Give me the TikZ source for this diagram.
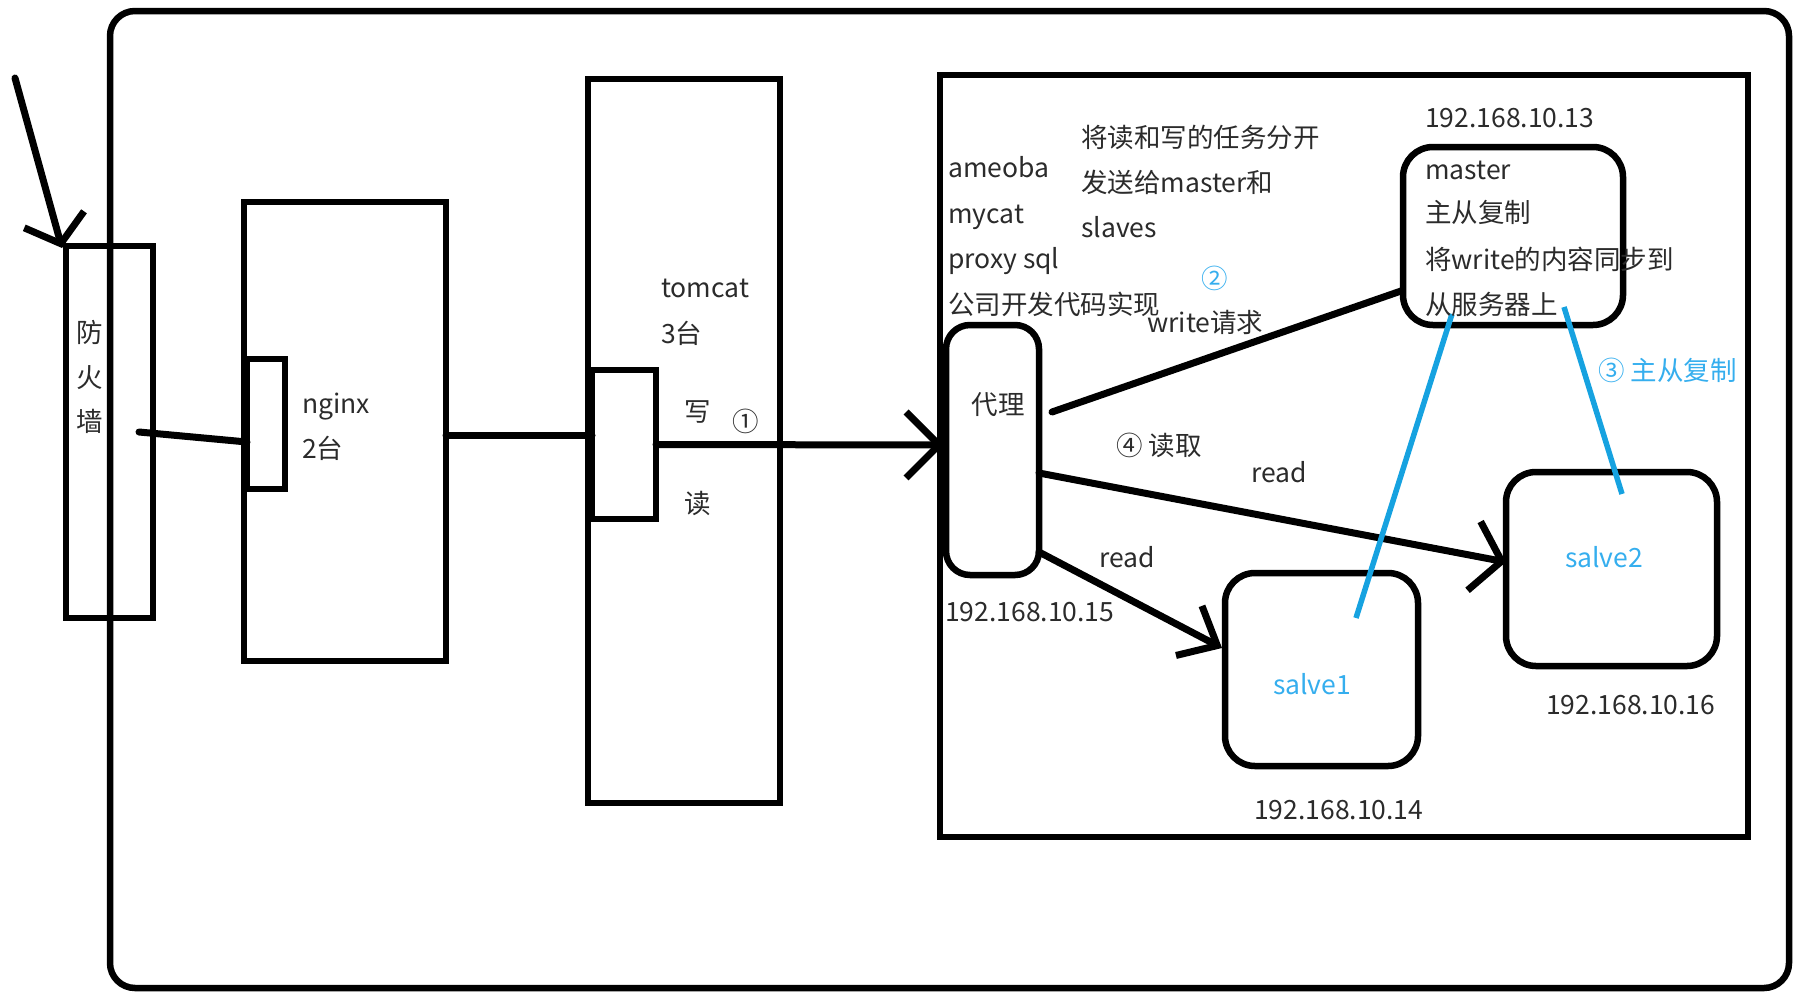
\documentclass[tikz,border=0pt]{standalone}
\usepackage{fontspec}
\setmainfont{Noto Sans CJK SC}
\usetikzlibrary{arrows.meta}
\definecolor{txtgray}{HTML}{2B2B2B}
\definecolor{bline}{HTML}{16A2E0}
\definecolor{btext}{HTML}{35AEEE}
\begin{document}
\begin{tikzpicture}[x=1pt,y=-1pt,
  box/.style={draw=black,line width=6.5pt,inner sep=0pt,outer sep=0pt},
  rbox/.style={box,rounded corners=28pt},
  conn/.style={draw=black,line width=7pt,line cap=round},
  bconn/.style={draw=bline,line width=5.5pt},
  lbl/.style={font=\fontsize{26.5}{30}\selectfont,text=txtgray,inner sep=0pt,text height=22pt,text depth=4pt,anchor=west},
  clbl/.style={lbl,anchor=center},
  blbl/.style={lbl,text=btext},
  bclbl/.style={clbl,text=btext}]
\useasboundingbox (0,0) rectangle (1804,999);
% boxes
\node[box,rounded corners=25pt,minimum width=1679pt,minimum height=977pt] (outer) at (949.5,499.5) {};
\node[box,minimum width=808pt,minimum height=762pt] (inner) at (1344,456) {};
\node[box,minimum width=87pt,minimum height=372pt] (fw) at (109.5,432) {};
\node[box,minimum width=202pt,minimum height=459pt] (ngb) at (345,431.5) {};
\node[box,minimum width=38pt,minimum height=130pt] (ngs) at (266,424) {};
\node[box,minimum width=192pt,minimum height=724pt] (tcb) at (684,441) {};
\node[box,minimum width=64pt,minimum height=149pt] (tcs) at (624,444.5) {};
\node[box,rounded corners=24pt,minimum width=93pt,minimum height=250pt] (px) at (992.5,450) {};
\node[rbox,rounded corners=30pt,minimum width=220pt,minimum height=178pt] (ms) at (1513,236) {};
\node[rbox,rounded corners=30pt,minimum width=193pt,minimum height=193pt] (s1) at (1321.5,669.5) {};
\node[rbox,rounded corners=30pt,minimum width=211pt,minimum height=194pt] (s2) at (1611.5,569) {};
% connectors
\coordinate (in) at (15,78);
\draw[conn,-{Straight Barb[length=25pt,width=62pt]}] (in) -- ([xshift=-4pt,yshift=-2pt]fw.north west);
\draw[conn] ([xshift=-14pt]fw.east) -- ([yshift=-18pt]ngs.west);
\draw[conn] ([yshift=-3.5pt]ngb.east) -- ([yshift=9.5pt]tcs.west);
\draw[conn,-{Straight Barb[length=33pt,width=66pt]}] (tcs.east) -- ([xshift=-2pt,yshift=5pt]px.west);
\draw[conn] ([xshift=13pt,yshift=38pt]px.east) -- ([xshift=-2pt,yshift=-55pt]ms.west);
\draw[conn,-{Straight Barb[length=28pt,width=70pt]}] ([yshift=-23pt]px.east) -- ([yshift=7pt]s2.west);
\draw[conn,-{Straight Barb[length=32pt,width=56pt]}] ([yshift=-102pt]px.east) -- ([xshift=-3pt,yshift=21.5pt]s1.west);
\draw[bconn] ([xshift=-61pt,yshift=11pt]ms.south) -- ([xshift=34.5pt,yshift=51.5pt]s1.center);
\draw[bconn] ([xshift=51pt,yshift=18pt]ms.south) -- ([xshift=10.5pt,yshift=75pt]s2.center);
% texts
\node[clbl] (t1) at (90,333) {防};
\node[clbl] (t2) at (90,378) {火};
\node[clbl] (t3) at (90,422) {墙};
\node[lbl] (t4) at (302,404) {nginx};
\node[lbl] (t5) at (302,449) {2台};
\node[lbl] (t6) at (661,288) {tomcat};
\node[lbl] (t7) at (661,334) {3台};
\node[clbl] (t8) at (698,412) {写};
\node[clbl] (t9) at (746,422) {①};
\node[clbl] (t10) at (698,504) {读};
\node[clbl] (t11) at (998,405) {代理};
\node[lbl] (t12) at (948,168) {ameoba};
\node[lbl] (t13) at (948,214) {mycat};
\node[lbl] (t14) at (948,259) {proxy sql};
\node[lbl] (t15) at (948,305) {公司开发代码实现};
\node[lbl] (t16) at (1081,138) {将读和写的任务分开};
\node[lbl] (t17) at (1081,183) {发送给master和};
\node[lbl] (t18) at (1081,228) {slaves};
\node[lbl] (t19) at (1425,118) {192.168.10.13};
\node[lbl] (t20) at (1425,170) {master};
\node[lbl] (t21) at (1425,213) {主从复制};
\node[lbl] (t22) at (1425,260) {将write的内容同步到};
\node[lbl] (t23) at (1425,305) {从服务器上};
\node[bclbl] (t24) at (1215,279) {②};
\node[lbl] (t25) at (1147,323) {write请求};
\node[blbl] (t26) at (1598,371) {③ 主从复制};
\node[lbl] (t27) at (1116,446) {④ 读取};
\node[lbl] (t28) at (1251,473) {read};
\node[lbl] (t29) at (1099,558) {read};
\node[lbl] (t30) at (945,612) {192.168.10.15};
\node[bclbl] (t31) at (1312,685) {salve1};
\node[lbl] (t32) at (1254,810) {192.168.10.14};
\node[bclbl] (t33) at (1604,558) {salve2};
\node[lbl] (t34) at (1546,705) {192.168.10.16};
\end{tikzpicture}
\end{document}
